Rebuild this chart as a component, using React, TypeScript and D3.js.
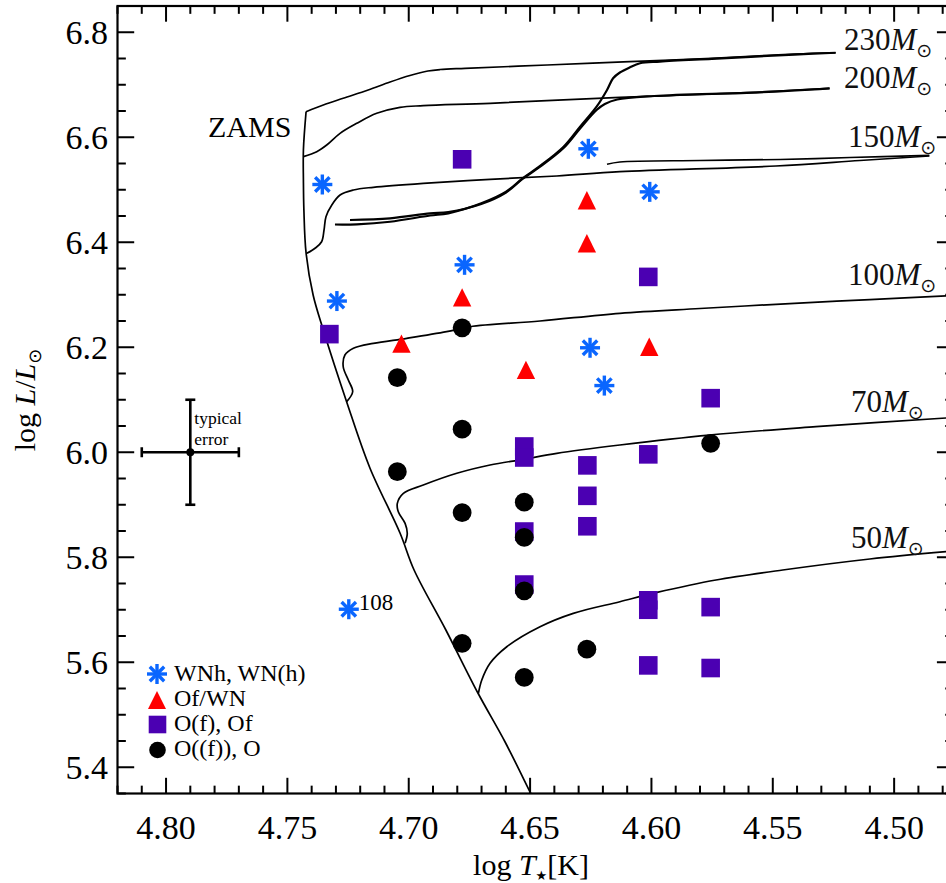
import * as d3 from "d3";

// log T, log L for each spectral class
const wnhStars = [
  [4.7356, 6.51], [4.626, 6.578], [4.6007, 6.496], [4.677, 6.357],
  [4.7296, 6.288], [4.6253, 6.199], [4.6194, 6.127], [4.7247, 5.701],
];
const ofwnStars = [
  [4.6266, 6.48], [4.6266, 6.398], [4.678, 6.295], [4.703, 6.207],
  [4.6517, 6.157], [4.6009, 6.201],
];
const ofStars = [
  [4.678, 6.558], [4.6013, 6.334], [4.7327, 6.225], [4.5756, 6.103],
  [4.6524, 6.011], [4.6524, 5.99], [4.6264, 5.975], [4.6264, 5.917],
  [4.6264, 5.859], [4.6013, 5.996], [4.6524, 5.849], [4.6524, 5.748],
  [4.6013, 5.718], [4.6013, 5.7], [4.5756, 5.705], [4.6013, 5.594],
  [4.5756, 5.589],
];
const oStars = [
  [4.678, 6.237], [4.7047, 6.142], [4.678, 6.044], [4.7047, 5.963],
  [4.678, 5.885], [4.6524, 5.905], [4.6524, 5.838], [4.6524, 5.736],
  [4.678, 5.636], [4.6266, 5.625], [4.6524, 5.571], [4.5756, 6.017],
];
const labelledStar = { name: "108", T: 4.7247, L: 5.701 };

// ZAMS and evolutionary tracks
const zams = [
  [4.7423, 6.6487], [4.7434, 6.5757], [4.7434, 6.5186], [4.7432, 6.4614],
  [4.7423, 6.3795], [4.7394, 6.2995], [4.7352, 6.2329], [4.7256, 6.0963],
  [4.716, 5.97], [4.7036, 5.8462], [4.6978, 5.7757], [4.6847, 5.6614],
  [4.6715, 5.5414], [4.6603, 5.4481], [4.6497, 5.35], [4.6475, 5.33],
];
const track230 = [
  [4.7423, 6.6487], [4.7352, 6.6614], [4.727, 6.6742], [4.7167, 6.69],
  [4.7077, 6.7052], [4.6995, 6.7176], [4.6921, 6.7262], [4.6871, 6.729],
  [4.6768, 6.7313], [4.643, 6.7376], [4.609, 6.7439], [4.5751, 6.7504],
  [4.5411, 6.7586], [4.5241, 6.761],
];
const track230Back = [
  [4.5241, 6.761], [4.5411, 6.7574], [4.5751, 6.7494], [4.5965, 6.7441],
  [4.6047, 6.7409], [4.609, 6.7329], [4.613, 6.7233], [4.6158, 6.7123],
  [4.6183, 6.69], [4.6226, 6.6582], [4.6294, 6.6201], [4.6362, 6.582],
  [4.6463, 6.5439], [4.6531, 6.5218], [4.6599, 6.4963], [4.6701, 6.4742],
  [4.6837, 6.4551], [4.6912, 6.4509], [4.7077, 6.4391], [4.7214, 6.4342],
  [4.7304, 6.4338],
];
const track200 = [
  [4.7434, 6.563], [4.7379, 6.5725], [4.7338, 6.5852], [4.7283, 6.6075],
  [4.7214, 6.6266], [4.7132, 6.6456], [4.7036, 6.657], [4.694, 6.6601],
  [4.6665, 6.6647], [4.613, 6.6761], [4.58, 6.6814], [4.5553, 6.6862],
  [4.5266, 6.6932],
];
const track200Back = [
  [4.5266, 6.6932], [4.5553, 6.6856], [4.5988, 6.6786], [4.6141, 6.6719],
  [4.6192, 6.6633], [4.6226, 6.6519], [4.6294, 6.6167], [4.6362, 6.5795],
  [4.6463, 6.5424], [4.6531, 6.5205], [4.6599, 6.4948], [4.6701, 6.4729],
  [4.6837, 6.4576], [4.6912, 6.4551], [4.7077, 6.4456], [4.7242, 6.4424],
];
const track150 = [
  [4.742, 6.3789], [4.7386, 6.3885], [4.7359, 6.401], [4.7349, 6.4233],
  [4.7341, 6.4487], [4.7317, 6.471], [4.7283, 6.49], [4.7228, 6.4995],
  [4.7146, 6.5047], [4.694, 6.5123], [4.6665, 6.5199], [4.639, 6.5262],
  [4.613, 6.5344], [4.5487, 6.5452], [4.5141, 6.5557], [4.4855, 6.5643],
];
const track150Back = [
  [4.4855, 6.5656], [4.5182, 6.5614], [4.547, 6.5576], [4.58, 6.5557],
  [4.613, 6.5529], [4.6183, 6.5485],
];
const track100 = [
  [4.7256, 6.0963], [4.7231, 6.1153], [4.7249, 6.1376], [4.727, 6.1629],
  [4.7263, 6.1852], [4.7228, 6.198], [4.7146, 6.2075], [4.7008, 6.217],
  [4.6844, 6.2296], [4.6748, 6.2391], [4.6459, 6.25], [4.613, 6.2647],
  [4.58, 6.2738], [4.5411, 6.2837], [4.51, 6.2909], [4.4754, 6.2986],
];
const track70 = [
  [4.7015, 5.8265], [4.7006, 5.8456], [4.7015, 5.8646], [4.7043, 5.8867],
  [4.7047, 5.9027], [4.7022, 5.9218], [4.694, 5.9376], [4.6802, 5.9599],
  [4.6665, 5.9757], [4.6528, 5.9865], [4.639, 5.998], [4.613, 6.0138],
  [4.5762, 6.0328], [4.5322, 6.0487], [4.4754, 6.0662],
];
const track50 = [
  [4.6713, 5.5408], [4.6699, 5.5662], [4.6665, 5.598], [4.6596, 5.6296],
  [4.6459, 5.6677], [4.6322, 5.6932], [4.613, 5.7153], [4.5981, 5.7325],
  [4.5734, 5.7566], [4.5459, 5.7757], [4.51, 5.7967], [4.4754, 5.8119],
];
const tracks = [track230, track230Back, track200, track200Back, track150, track150Back, track100, track70, track50];

const massLabels = ["230", "200", "150", "100", "70", "50"];
const massLabelT = [4.5207, 4.5207, 4.519, 4.519, 4.5178, 4.5178];
const massLabelL = [6.766, 6.694, 6.581, 6.319, 6.077, 5.817];

const typicalError = { T: 4.79, L: 6.0, dT: 0.02, dL: 0.1 };

const xMajor = [4.8, 4.75, 4.7, 4.65, 4.6, 4.55, 4.5];
const yMajor = [5.4, 5.6, 5.8, 6.0, 6.2, 6.4, 6.6, 6.8];
const xMinor = d3.range(448, 483).map((v) => v / 100);
const yMinor = d3.range(107, 138).map((v) => v / 20);

const legendItems = ["WNh, WN(h)", "Of/WN", "O(f), Of", "O((f)), O"];

const BLUE = "#0a66ff";
const RED = "#ff0000";
const PURPLE = "#4b00b2";
const FONT = "'Liberation Serif', 'Times New Roman', Times, serif";

const Asterisk = ({ cx, cy, r = 10 }) => (
  <g transform={`translate(${cx},${cy})`} stroke={BLUE} strokeWidth={3.4}>
    <line x1={-r} y1={0} x2={r} y2={0} />
    <line x1={0} y1={-r} x2={0} y2={r} />
    <line x1={-r * 0.72} y1={-r * 0.72} x2={r * 0.72} y2={r * 0.72} />
    <line x1={-r * 0.72} y1={r * 0.72} x2={r * 0.72} y2={-r * 0.72} />
  </g>
);

const Triangle = ({ cx, cy, s = 9.2 }) => (
  <path d={`M${cx},${cy - s} L${cx + s},${cy + s} L${cx - s},${cy + s} Z`} fill={RED} />
);

const Square = ({ cx, cy, s = 9.3 }) => (
  <rect x={cx - s} y={cy - s} width={2 * s} height={2 * s} fill={PURPLE} />
);

const Dot = ({ cx, cy, r = 9.4 }) => <circle cx={cx} cy={cy} r={r} fill="#000" />;

export default function App() {
  const W = 946;
  const H = 883;
  const left = 117.5;
  const right = 953.6;
  const top = 6;
  const bottom = 793.5;

  const x = d3.scaleLinear().domain([4.82, 4.4755]).range([left, right]);
  const y = d3.scaleLinear().domain([5.35, 6.85]).range([bottom, top]);

  const line = d3
    .line<number[]>()
    .x((d) => x(d[0]))
    .y((d) => y(d[1]))
    .curve(d3.curveCatmullRom.alpha(0.5));

  const xMajLen = 15.7;
  const yMajLen = 16.7;
  const isMajorX = (v) => xMajor.some((m) => Math.abs(m - v) < 1e-6);
  const isMajorY = (v) => yMajor.some((m) => Math.abs(m - v) < 1e-6);

  const e = typicalError;
  const ex = x(e.T);
  const ey = y(e.L);

  return (
    <svg
      width={W}
      height={H}
      style={{ position: "absolute", left: 0, top: 0, background: "#fff" }}
      fontFamily={FONT}
    >
      <defs>
        <clipPath id="plot">
          <rect x={left} y={top} width={right - left} height={bottom - top} />
        </clipPath>
      </defs>

      {/* tracks */}
      <g clipPath="url(#plot)" fill="none" stroke="#000">
        <path d={line(zams)} strokeWidth={1.7} />
        {tracks.map((t, i) => (
          <path key={i} d={line(t)} strokeWidth={i === 1 || i === 3 ? 2.2 : 1.7} />
        ))}
      </g>

      {/* mass labels */}
      {massLabels.map((m, i) => (
        <text key={m} x={x(massLabelT[i])} y={y(massLabelL[i])} fontSize={31} fill="#111">
          {m}
          <tspan fontStyle="italic">M</tspan>
          <tspan fontSize={19} dy={7} fontFamily="'DejaVu Sans', sans-serif">⊙</tspan>
        </text>
      ))}

      <text x={208} y={137} fontSize={30} fill="#000">ZAMS</text>

      {/* typical error */}
      <g stroke="#000" strokeWidth={2.6}>
        <line x1={x(e.T + e.dT)} y1={ey} x2={x(e.T - e.dT)} y2={ey} />
        <line x1={ex} y1={y(e.L + e.dL)} x2={ex} y2={y(e.L - e.dL)} />
        <line x1={x(e.T + e.dT)} y1={ey - 5} x2={x(e.T + e.dT)} y2={ey + 5} />
        <line x1={x(e.T - e.dT)} y1={ey - 5} x2={x(e.T - e.dT)} y2={ey + 5} />
        <line x1={ex - 5} y1={y(e.L + e.dL)} x2={ex + 5} y2={y(e.L + e.dL)} />
        <line x1={ex - 5} y1={y(e.L - e.dL)} x2={ex + 5} y2={y(e.L - e.dL)} />
      </g>
      <circle cx={ex} cy={ey} r={4} fill="#000" />
      <text x={ex + 4} y={ey - 28} fontSize={17.5}>typical</text>
      <text x={ex + 4} y={ey - 7.5} fontSize={17.5}>error</text>

      {/* stars */}
      {ofStars.map((d, i) => (
        <Square key={"s" + i} cx={x(d[0])} cy={y(d[1])} />
      ))}
      {oStars.map((d, i) => (
        <Dot key={"o" + i} cx={x(d[0])} cy={y(d[1])} />
      ))}
      {ofwnStars.map((d, i) => (
        <Triangle key={"t" + i} cx={x(d[0])} cy={y(d[1])} />
      ))}
      {wnhStars.map((d, i) => (
        <Asterisk key={"a" + i} cx={x(d[0])} cy={y(d[1])} />
      ))}
      <text x={x(labelledStar.T) + 10} y={y(labelledStar.L) + 1} fontSize={23}>
        {labelledStar.name}
      </text>

      {/* legend */}
      <g>
        <Asterisk cx={157} cy={674} />
        <Triangle cx={157} cy={700} s={9} />
        <Square cx={157.5} cy={724.5} s={8.8} />
        <Dot cx={157.5} cy={750} r={8.3} />
        {legendItems.map((t, i) => (
          <text key={t} x={174} y={681 + i * 25} fontSize={24}>
            {t}
          </text>
        ))}
      </g>

      {/* frame and ticks */}
      <rect x={left} y={top} width={right - left} height={bottom - top} fill="none" stroke="#000" strokeWidth={2.2} />
      <g stroke="#000" strokeWidth={2}>
        {xMinor.map((v) => {
          const len = isMajorX(v) ? xMajLen : xMajLen / 2;
          return (
            <g key={"xt" + v}>
              <line x1={x(v)} x2={x(v)} y1={bottom} y2={bottom - len} />
              <line x1={x(v)} x2={x(v)} y1={top} y2={top + len} />
            </g>
          );
        })}
        {yMinor.map((v) => {
          const len = isMajorY(v) ? yMajLen : yMajLen / 2;
          return (
            <g key={"yt" + v}>
              <line x1={left} x2={left + len} y1={y(v)} y2={y(v)} />
              <line x1={right} x2={right - len} y1={y(v)} y2={y(v)} />
            </g>
          );
        })}
      </g>
      {xMajor.map((v) => (
        <text key={"xl" + v} x={x(v)} y={839} fontSize={34} textAnchor="middle">
          {v.toFixed(2)}
        </text>
      ))}
      {yMajor.map((v) => (
        <text key={"yl" + v} x={108} y={y(v) + 12} fontSize={34} textAnchor="end">
          {v.toFixed(1)}
        </text>
      ))}

      {/* axis titles */}
      <text x={531} y={875} fontSize={30} textAnchor="middle">
        log <tspan fontStyle="italic">T</tspan>
        <tspan fontSize={13} dy={5} fontFamily="'DejaVu Sans', sans-serif">★</tspan>
        <tspan dy={-5}>[K]</tspan>
      </text>
      <text transform="translate(35,400) rotate(-90)" fontSize={30} textAnchor="middle">
        log <tspan fontStyle="italic">L</tspan>/<tspan fontStyle="italic">L</tspan>
        <tspan fontSize={18} dy={6} fontFamily="'DejaVu Sans', sans-serif">⊙</tspan>
      </text>
    </svg>
  );
}
